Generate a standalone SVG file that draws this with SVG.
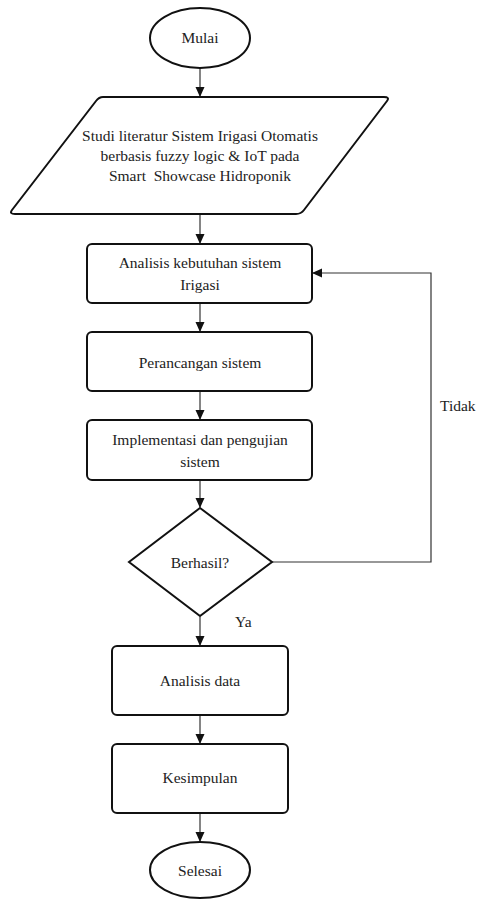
<svg xmlns="http://www.w3.org/2000/svg" width="481" height="899" viewBox="0 0 481 899">
<defs>
<style>
.s{fill:#fff;stroke:#111;stroke-width:2}
.t{font-family:'Liberation Serif','DejaVu Serif',serif;font-size:15.5px;fill:#222;text-anchor:middle}
.l{font-family:'Liberation Serif','DejaVu Serif',serif;font-size:15.5px;fill:#222}
.c{fill:none;stroke:#333;stroke-width:1.2}
</style>
<marker id="a" markerWidth="10" markerHeight="10" refX="9" refY="5" orient="auto" markerUnits="userSpaceOnUse">
<path d="M0,0.5 L10,5 L0,9.5 Z" fill="#111"/>
</marker>
</defs>
<rect width="481" height="899" fill="#fff"/>
<g id="connectors">
<line class="c" x1="200" y1="68" x2="200" y2="96" marker-end="url(#a)"/>
<line class="c" x1="200" y1="214" x2="200" y2="243" marker-end="url(#a)"/>
<line class="c" x1="200" y1="303" x2="200" y2="331" marker-end="url(#a)"/>
<line class="c" x1="200" y1="391" x2="200" y2="419" marker-end="url(#a)"/>
<line class="c" x1="200" y1="480" x2="200" y2="507" marker-end="url(#a)"/>
<line class="c" x1="200" y1="617" x2="200" y2="645" marker-end="url(#a)"/>
<line class="c" x1="200" y1="715" x2="200" y2="743" marker-end="url(#a)"/>
<line class="c" x1="200" y1="813" x2="200" y2="841" marker-end="url(#a)"/>
<polyline class="c" points="272,562 431,562 431,273 313,273" marker-end="url(#a)"/>
<text class="l" x="440" y="411">Tidak</text>
<text class="l" x="235" y="627">Ya</text>
</g>
<g id="mulai">
<ellipse class="s" cx="200" cy="38" rx="50" ry="30"/>
<text class="t" x="200" y="43">Mulai</text>
</g>
<g id="studi">
<path class="s" d="M103,97 L384,97 Q390,97 387,101 L304,210 Q301,214 296,214 L15,214 Q9,214 12,210 L96,101 Q99,97 103,97 Z"/>
<text class="t" x="200" y="141">Studi literatur Sistem Irigasi Otomatis</text>
<text class="t" x="200" y="161">berbasis fuzzy logic &amp; IoT pada</text>
<text class="t" x="200" y="181" xml:space="preserve">Smart  Showcase Hidroponik</text>
</g>
<g id="analisis-kebutuhan">
<rect class="s" x="87" y="244" width="225" height="59" rx="5"/>
<text class="t" x="200" y="268">Analisis kebutuhan sistem</text>
<text class="t" x="200" y="290">Irigasi</text>
</g>
<g id="perancangan">
<rect class="s" x="87" y="332" width="225" height="59" rx="5"/>
<text class="t" x="200" y="368">Perancangan sistem</text>
</g>
<g id="implementasi">
<rect class="s" x="87" y="420" width="225" height="60" rx="5"/>
<text class="t" x="200" y="445">Implementasi dan pengujian</text>
<text class="t" x="200" y="467">sistem</text>
</g>
<g id="berhasil">
<polygon class="s" points="200,508 272,562 200,616 129,562"/>
<text class="t" x="200" y="568">Berhasil?</text>
</g>
<g id="analisis-data">
<rect class="s" x="112" y="646" width="176" height="69" rx="5"/>
<text class="t" x="200" y="686">Analisis data</text>
</g>
<g id="kesimpulan">
<rect class="s" x="112" y="744" width="176" height="69" rx="5"/>
<text class="t" x="200" y="783">Kesimpulan</text>
</g>
<g id="selesai">
<ellipse class="s" cx="200" cy="870" rx="50" ry="28"/>
<text class="t" x="200" y="876">Selesai</text>
</g>
</svg>
